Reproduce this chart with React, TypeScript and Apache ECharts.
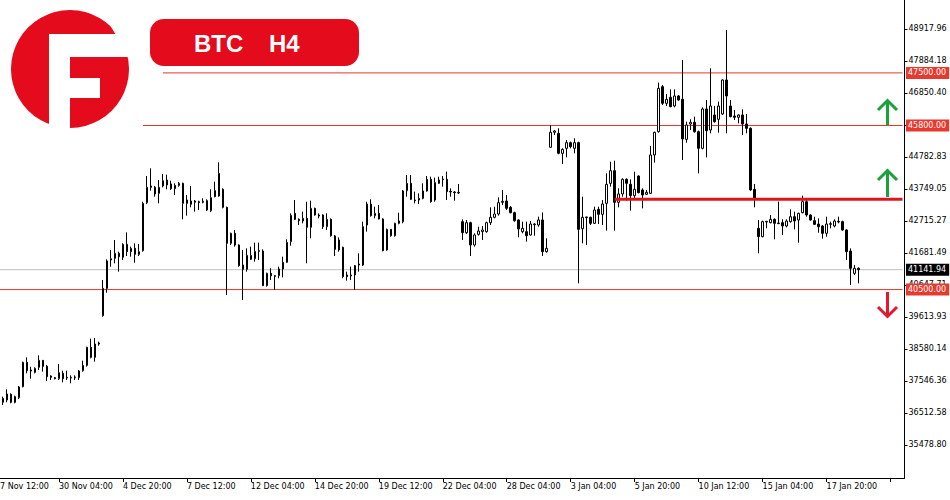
import React, { useEffect, useRef } from 'react';
import * as echarts from 'echarts';

// ---------- data ----------
const dateLabels = [
  '27 Nov 12:00', '30 Nov 04:00', '4 Dec 20:00', '7 Dec 12:00', '12 Dec 04:00',
  '14 Dec 20:00', '19 Dec 12:00', '22 Dec 04:00', '28 Dec 04:00', '3 Jan 04:00',
  '5 Jan 20:00', '10 Jan 12:00', '15 Jan 04:00', '17 Jan 20:00',
];

// [open, close, low, high] per H4 bar
const candles: number[][] = [
  [36857, 36986, 36771, 37040], [36932, 37126, 36857, 37277], [37115, 36857, 36825, 37148], [36857, 37040, 36825, 37072],
  [37008, 37352, 36965, 37385], [37363, 38149, 37341, 38171], [38149, 37880, 37794, 38311], [37901, 37869, 37621, 38009],
  [37826, 37955, 37794, 37988], [37988, 38214, 37901, 38375], [38214, 38020, 37848, 38225], [38020, 37686, 37546, 38063],
  [37708, 37665, 37578, 37729], [37654, 37621, 37600, 37676], [37621, 37815, 37578, 38095], [37794, 37621, 37503, 37880],
  [37665, 37643, 37578, 37880], [37643, 37665, 37471, 37729], [37654, 37676, 37578, 37729], [37654, 37869, 37578, 37901],
  [37880, 38052, 37848, 38203], [38052, 38634, 38009, 38655], [38634, 38311, 38278, 38914], [38311, 38741, 38171, 38935],
  [38741, 38774, 38688, 38817], [39657, 40540, 39624, 40809], [40540, 41423, 40400, 41477], [41455, 41498, 41240, 41778],
  [41509, 41671, 41348, 42101], [41671, 41563, 41078, 41724], [41541, 41961, 41455, 41994], [41961, 41724, 41584, 42349],
  [41724, 41832, 41563, 41886], [41832, 41638, 41369, 41994], [41638, 41724, 41584, 41972], [41757, 43286, 41724, 43340],
  [43308, 43803, 43264, 44169], [43846, 43803, 43695, 44417], [43803, 43587, 43501, 43846], [43609, 43803, 43286, 44040],
  [43846, 44018, 43803, 44234], [44040, 43878, 43738, 44212], [43911, 43760, 43717, 44018], [43760, 43867, 43555, 43932],
  [43867, 43932, 43824, 43975], [43932, 43286, 42769, 43954], [43394, 43286, 42888, 43555], [43254, 43361, 43157, 43846],
  [43318, 43361, 43017, 43394], [43340, 43308, 43071, 43372], [43318, 43351, 43286, 43447], [43372, 43071, 43038, 43415],
  [43049, 43469, 43006, 43738], [43501, 43695, 43480, 43986], [43523, 44255, 43501, 44611], [43738, 43157, 43124, 43771],
  [43157, 41994, 40324, 43178], [41994, 42317, 41940, 42338], [42317, 41940, 41886, 42424], [41940, 41272, 41240, 41961],
  [41294, 41154, 40163, 41778], [41154, 41606, 41078, 41832], [41477, 41606, 41455, 41886], [41498, 41735, 41401, 42015],
  [41757, 41735, 41455, 42015], [41746, 40626, 40615, 41800], [40626, 41024, 40594, 41046], [41024, 40938, 40809, 41186],
  [40949, 40927, 40486, 40971], [40949, 41164, 40863, 41240], [41164, 41380, 40895, 41563], [41380, 42026, 41369, 42123],
  [42048, 42898, 41918, 42963], [42963, 42769, 42748, 43394], [42769, 42726, 42586, 42801], [42715, 42801, 42640, 43017],
  [42801, 42511, 41348, 43340], [42511, 43124, 42155, 43372], [43124, 42909, 42888, 43146], [42909, 42877, 42801, 42963],
  [42909, 42532, 42457, 42931], [42532, 42769, 42424, 42963], [42769, 42241, 42209, 42801], [42231, 41800, 41584, 42263],
  [41778, 42101, 41724, 42188], [41864, 40917, 40863, 41886], [40971, 40917, 40788, 41078], [40938, 40971, 40809, 41240],
  [40971, 41272, 40486, 41294], [41294, 41326, 41078, 41671], [41294, 42532, 41261, 42694], [42586, 43264, 42371, 43340],
  [43264, 42888, 42855, 43415], [42888, 42963, 42801, 43178], [42963, 42780, 42769, 43232], [42780, 41757, 41735, 42801],
  [41778, 42446, 41757, 42468], [42446, 42241, 42209, 42457], [42241, 42640, 42209, 42661], [42640, 42715, 42608, 42984],
  [42694, 43684, 42640, 43717], [43695, 43932, 43501, 44201], [43932, 43415, 43394, 44201], [43394, 43372, 43286, 43663],
  [43394, 43447, 43264, 43609], [43447, 43684, 43415, 43932], [43684, 44061, 43663, 44169], [44061, 43340, 43308, 44147],
  [43394, 43954, 43340, 44115], [43932, 44040, 43911, 44147], [44051, 44072, 43824, 44169], [44061, 43663, 43394, 44309],
  [43674, 43652, 43501, 43771], [43652, 43631, 43372, 43684], [43620, 43641, 43587, 43911], [42694, 42338, 42101, 42769],
  [42338, 42661, 42295, 42748], [42661, 41940, 41584, 42694], [41940, 42263, 41886, 42317], [42284, 42392, 42241, 42532],
  [42371, 42424, 42101, 42554], [42371, 42661, 42338, 42694], [42661, 42834, 42586, 43157], [42834, 42941, 42801, 43178],
  [42941, 43308, 42888, 43480], [43318, 43351, 43232, 43717], [43361, 43124, 43071, 43555], [43157, 42984, 42963, 43200],
  [42984, 42726, 42694, 43017], [42748, 42457, 42188, 42769], [42371, 42478, 42317, 42694], [42371, 42241, 42048, 42694],
  [42263, 42618, 42241, 42715], [42597, 42618, 42241, 42640], [42586, 42748, 42532, 42855], [42748, 41724, 41584, 42993],
  [41724, 41832, 41692, 42155], [45096, 45581, 45080, 45817], [45581, 45623, 45493, 45655], [45548, 44902, 44870, 45710],
  [44901, 45030, 44556, 45063], [45063, 45246, 44772, 45332], [45246, 45117, 45063, 45278], [45063, 45246, 44901, 45386],
  [45246, 42446, 40701, 45278], [42468, 42834, 41994, 43501], [42823, 42845, 41940, 42855], [42834, 42640, 42586, 42855],
  [42640, 43071, 42618, 43178], [43092, 42931, 42618, 43178], [42931, 43264, 42586, 43394], [43286, 43900, 42403, 44255],
  [43932, 44341, 43824, 44632], [44341, 43318, 42403, 44664], [43318, 43588, 43157, 43771], [43588, 44061, 43501, 44094],
  [44061, 43932, 43372, 44094], [43900, 43534, 43049, 44061], [43534, 43738, 43394, 44309], [44169, 43631, 43609, 44190],
  [43717, 43555, 43124, 43771], [43577, 43641, 43555, 43717], [43609, 44848, 43587, 45138], [44848, 45580, 44600, 45601],
  [45601, 47001, 45569, 47184], [47055, 46517, 46463, 47109], [46517, 46646, 46431, 46818], [46711, 46409, 46388, 46969],
  [46431, 46754, 46388, 46969], [46754, 46624, 46603, 46786], [46646, 45364, 44686, 47917], [45353, 45817, 45246, 45924],
  [45849, 45903, 45655, 46000], [45903, 45601, 45569, 46086], [45601, 45063, 44255, 45634], [45063, 46334, 45030, 46388],
  [46334, 45634, 44772, 46624], [45655, 46430, 45548, 47647], [46140, 45924, 45892, 46430], [46000, 46430, 45569, 46571],
  [46172, 47271, 46140, 47292], [47271, 46754, 45548, 48886], [46430, 46086, 46064, 46624], [46107, 46064, 45978, 46301],
  [46064, 46140, 45871, 46161], [46140, 45849, 45494, 46323], [45849, 45709, 45548, 46172], [45709, 43717, 43695, 45741],
  [43738, 43448, 43157, 43911], [42478, 42209, 41671, 42748], [42209, 42694, 42188, 42726], [42683, 42705, 42478, 42715],
  [42661, 42769, 42640, 42909], [42769, 42640, 42123, 42801], [42629, 42651, 42618, 43340], [42661, 42554, 42263, 42769],
  [42554, 42715, 42511, 42769], [42694, 42855, 42661, 43092], [42855, 42715, 42446, 43017], [42748, 42963, 42015, 42985],
  [42985, 43340, 42963, 43534], [43340, 42909, 42855, 43394], [42909, 42748, 42726, 42931], [42726, 42608, 42586, 42855],
  [42618, 42532, 42338, 42801], [42554, 42317, 42145, 42586], [42317, 42618, 42209, 42855], [42608, 42629, 42478, 42694],
  [42554, 42715, 42511, 42769], [42683, 42705, 42640, 42855], [42694, 42425, 42403, 42726], [42425, 41725, 41455, 42446],
  [41746, 41186, 40648, 41832], [41025, 41186, 40971, 41294], [41186, 41141.94, 40701, 41218],
];

const yTicks = [
  35478.80, 36512.58, 37546.36, 38580.14, 39613.93, 40647.71, 41681.49,
  42715.27, 43749.05, 44782.83, 45816.61, 46850.40, 47884.18, 48917.96,
];
const yMin = 34412.6;
const yMax = 49854.8;

const resistanceHigh = 47500;
const resistanceMid = 45800;
const pivotLevel = 43420;
const supportLevel = 40500;
const lastPrice = 41141.94;

// ---------- layout / style ----------
const barsPerLabel = 16;
const leadingEmpty = 2;
const trailingEmpty = 11;
const startHigh = 42;
const startMid = 37;
const startPivot = 155;
const PAGE_SHIFT = 8; // chart div is shifted left so that the first (cut) date label fits

const FONT = "'DejaVu Sans', Verdana, sans-serif";
const brandRed = '#e30b1c';
const lineRed = '#e8372c';
const boxRed = '#e8392e';
const pivotRed = '#e0141e';
const green = '#17a23a';
const arrowRed = '#e3182d';

function levelSeries(
  value: number,
  start: number,
  end: number,
  color: string,
  width: number,
  labelBg: string | null,
  z: number,
) {
  return {
    type: 'line',
    data: [
      [start, value],
      [end, value],
    ],
    symbol: 'none',
    silent: true,
    z,
    animation: false,
    lineStyle: { color, width, type: 'solid' },
    emphasis: { disabled: true },
    endLabel: labelBg
      ? {
          show: true,
          formatter: value.toFixed(2),
          distance: 3.5,
          color: '#fff',
          backgroundColor: labelBg,
          padding: [2, 3, 1, 2],
          fontSize: 8,
          lineHeight: 9,
          fontFamily: FONT,
        }
      : { show: false },
  };
}

export default function App() {
  const ref = useRef<HTMLDivElement>(null);

  useEffect(() => {
    const chart = echarts.init(ref.current!, null, { renderer: 'svg' });
    const total = leadingEmpty + candles.length + trailingEmpty;
    const lastCat = total - 1;
    const cats = Array.from({ length: total }, (_, i) => String(i));
    const empty = ['-', '-', '-', '-'];
    const data = [
      ...Array.from({ length: leadingEmpty }, () => empty),
      ...candles,
      ...Array.from({ length: trailingEmpty }, () => empty),
    ];

    const option: any = {
      animation: false,
      grid: { left: 0.5, right: 45.5, top: 0, bottom: 22 },
      xAxis: {
        type: 'category',
        data: cats,
        boundaryGap: true,
        axisLine: { show: true, lineStyle: { color: '#000', width: 1 } },
        axisTick: {
          show: true,
          alignWithLabel: true,
          interval: barsPerLabel - 1,
          length: 4,
          lineStyle: { color: '#000' },
        },
        axisLabel: {
          interval: barsPerLabel - 1,
          formatter: (_v: string, idx: number) =>
            idx % barsPerLabel === 0 ? dateLabels[idx / barsPerLabel] ?? '' : '',
          align: 'left',
          margin: 4,
          color: '#000',
          fontSize: 8,
          fontFamily: FONT,
        },
        splitLine: { show: false },
      },
      yAxis: {
        type: 'value',
        position: 'right',
        min: yMin,
        max: yMax,
        axisLine: { show: true, lineStyle: { color: '#000', width: 1 } },
        axisTick: { show: true, customValues: yTicks, length: 3, lineStyle: { color: '#000' } },
        axisLabel: {
          customValues: yTicks,
          formatter: (v: number) => v.toFixed(2),
          margin: 4,
          color: '#000',
          fontSize: 8,
          fontFamily: FONT,
        },
        splitLine: { show: false },
      },
      series: [
        levelSeries(lastPrice, 0, lastCat, '#c0c0c0', 1, '#000', 1),
        levelSeries(supportLevel, 0, lastCat, lineRed, 1, boxRed, 1),
        levelSeries(resistanceHigh, startHigh, lastCat, lineRed, 1, boxRed, 1),
        levelSeries(resistanceMid, startMid, lastCat, lineRed, 1, boxRed, 1),
        {
          type: 'candlestick',
          data,
          barWidth: 2,
          z: 2,
          itemStyle: {
            color: '#fff',
            color0: '#000',
            borderColor: '#000',
            borderColor0: '#000',
            borderWidth: 1,
          },
          emphasis: { disabled: true },
        },
        levelSeries(pivotLevel, startPivot, lastCat, pivotRed, 3, null, 3),
      ],
      graphic: [
        {
          type: 'group',
          x: PAGE_SHIFT,
          y: 0,
          children: [
            // logo
            { type: 'circle', z: 100, shape: { cx: 70, cy: 69, r: 59 }, style: { fill: brandRed } },
            { type: 'rect', z: 101, shape: { x: 49, y: 34, width: 21, height: 100 }, style: { fill: '#fff' } },
            { type: 'rect', z: 101, shape: { x: 49, y: 34, width: 92, height: 23 }, style: { fill: '#fff' } },
            { type: 'rect', z: 101, shape: { x: 70, y: 78, width: 30, height: 20 }, style: { fill: '#fff' } },
            {
              type: 'polygon',
              z: 101,
              shape: { points: [[116, 35], [108, 22], [108, 0], [141, 0], [141, 35]] },
              style: { fill: '#fff' },
            },
            // title pill
            {
              type: 'rect',
              z: 100,
              shape: { x: 150, y: 19, width: 209, height: 47, r: 14 },
              style: { fill: brandRed },
            },
            {
              type: 'text',
              z: 102,
              x: 194,
              y: 43,
              style: {
                text: 'BTC',
                fill: '#fff',
                font: "bold 24px 'Liberation Sans', Arial, sans-serif",
                align: 'left',
                verticalAlign: 'middle',
              },
            },
            {
              type: 'text',
              z: 102,
              x: 269,
              y: 43,
              style: {
                text: 'H4',
                fill: '#fff',
                font: "bold 24px 'Liberation Sans', Arial, sans-serif",
                align: 'left',
                verticalAlign: 'middle',
              },
            },
            // arrows
            { type: 'line', z: 100, shape: { x1: 887.5, y1: 125, x2: 887.5, y2: 101 }, style: { stroke: green, lineWidth: 3 } },
            {
              type: 'polyline', z: 100,
              shape: { points: [[878, 110], [887.5, 100.5], [897, 110]] },
              style: { stroke: green, lineWidth: 3, fill: 'none' },
            },
            { type: 'line', z: 100, shape: { x1: 887.5, y1: 197, x2: 887.5, y2: 172 }, style: { stroke: green, lineWidth: 3 } },
            {
              type: 'polyline', z: 100,
              shape: { points: [[878, 180], [887.5, 170.5], [897, 180]] },
              style: { stroke: green, lineWidth: 3, fill: 'none' },
            },
            { type: 'line', z: 100, shape: { x1: 887.5, y1: 292, x2: 887.5, y2: 316 }, style: { stroke: arrowRed, lineWidth: 3 } },
            {
              type: 'polyline', z: 100,
              shape: { points: [[878, 307], [887.5, 316.5], [897, 307]] },
              style: { stroke: arrowRed, lineWidth: 3, fill: 'none' },
            },
          ],
        },
      ],
    };

    chart.setOption(option);
    return () => chart.dispose();
  }, []);

  return (
    <div
      ref={ref}
      style={{
        position: 'absolute',
        left: -PAGE_SHIFT,
        top: 0,
        width: 950 + PAGE_SHIFT,
        height: 500,
        background: '#fff',
      }}
    />
  );
}
